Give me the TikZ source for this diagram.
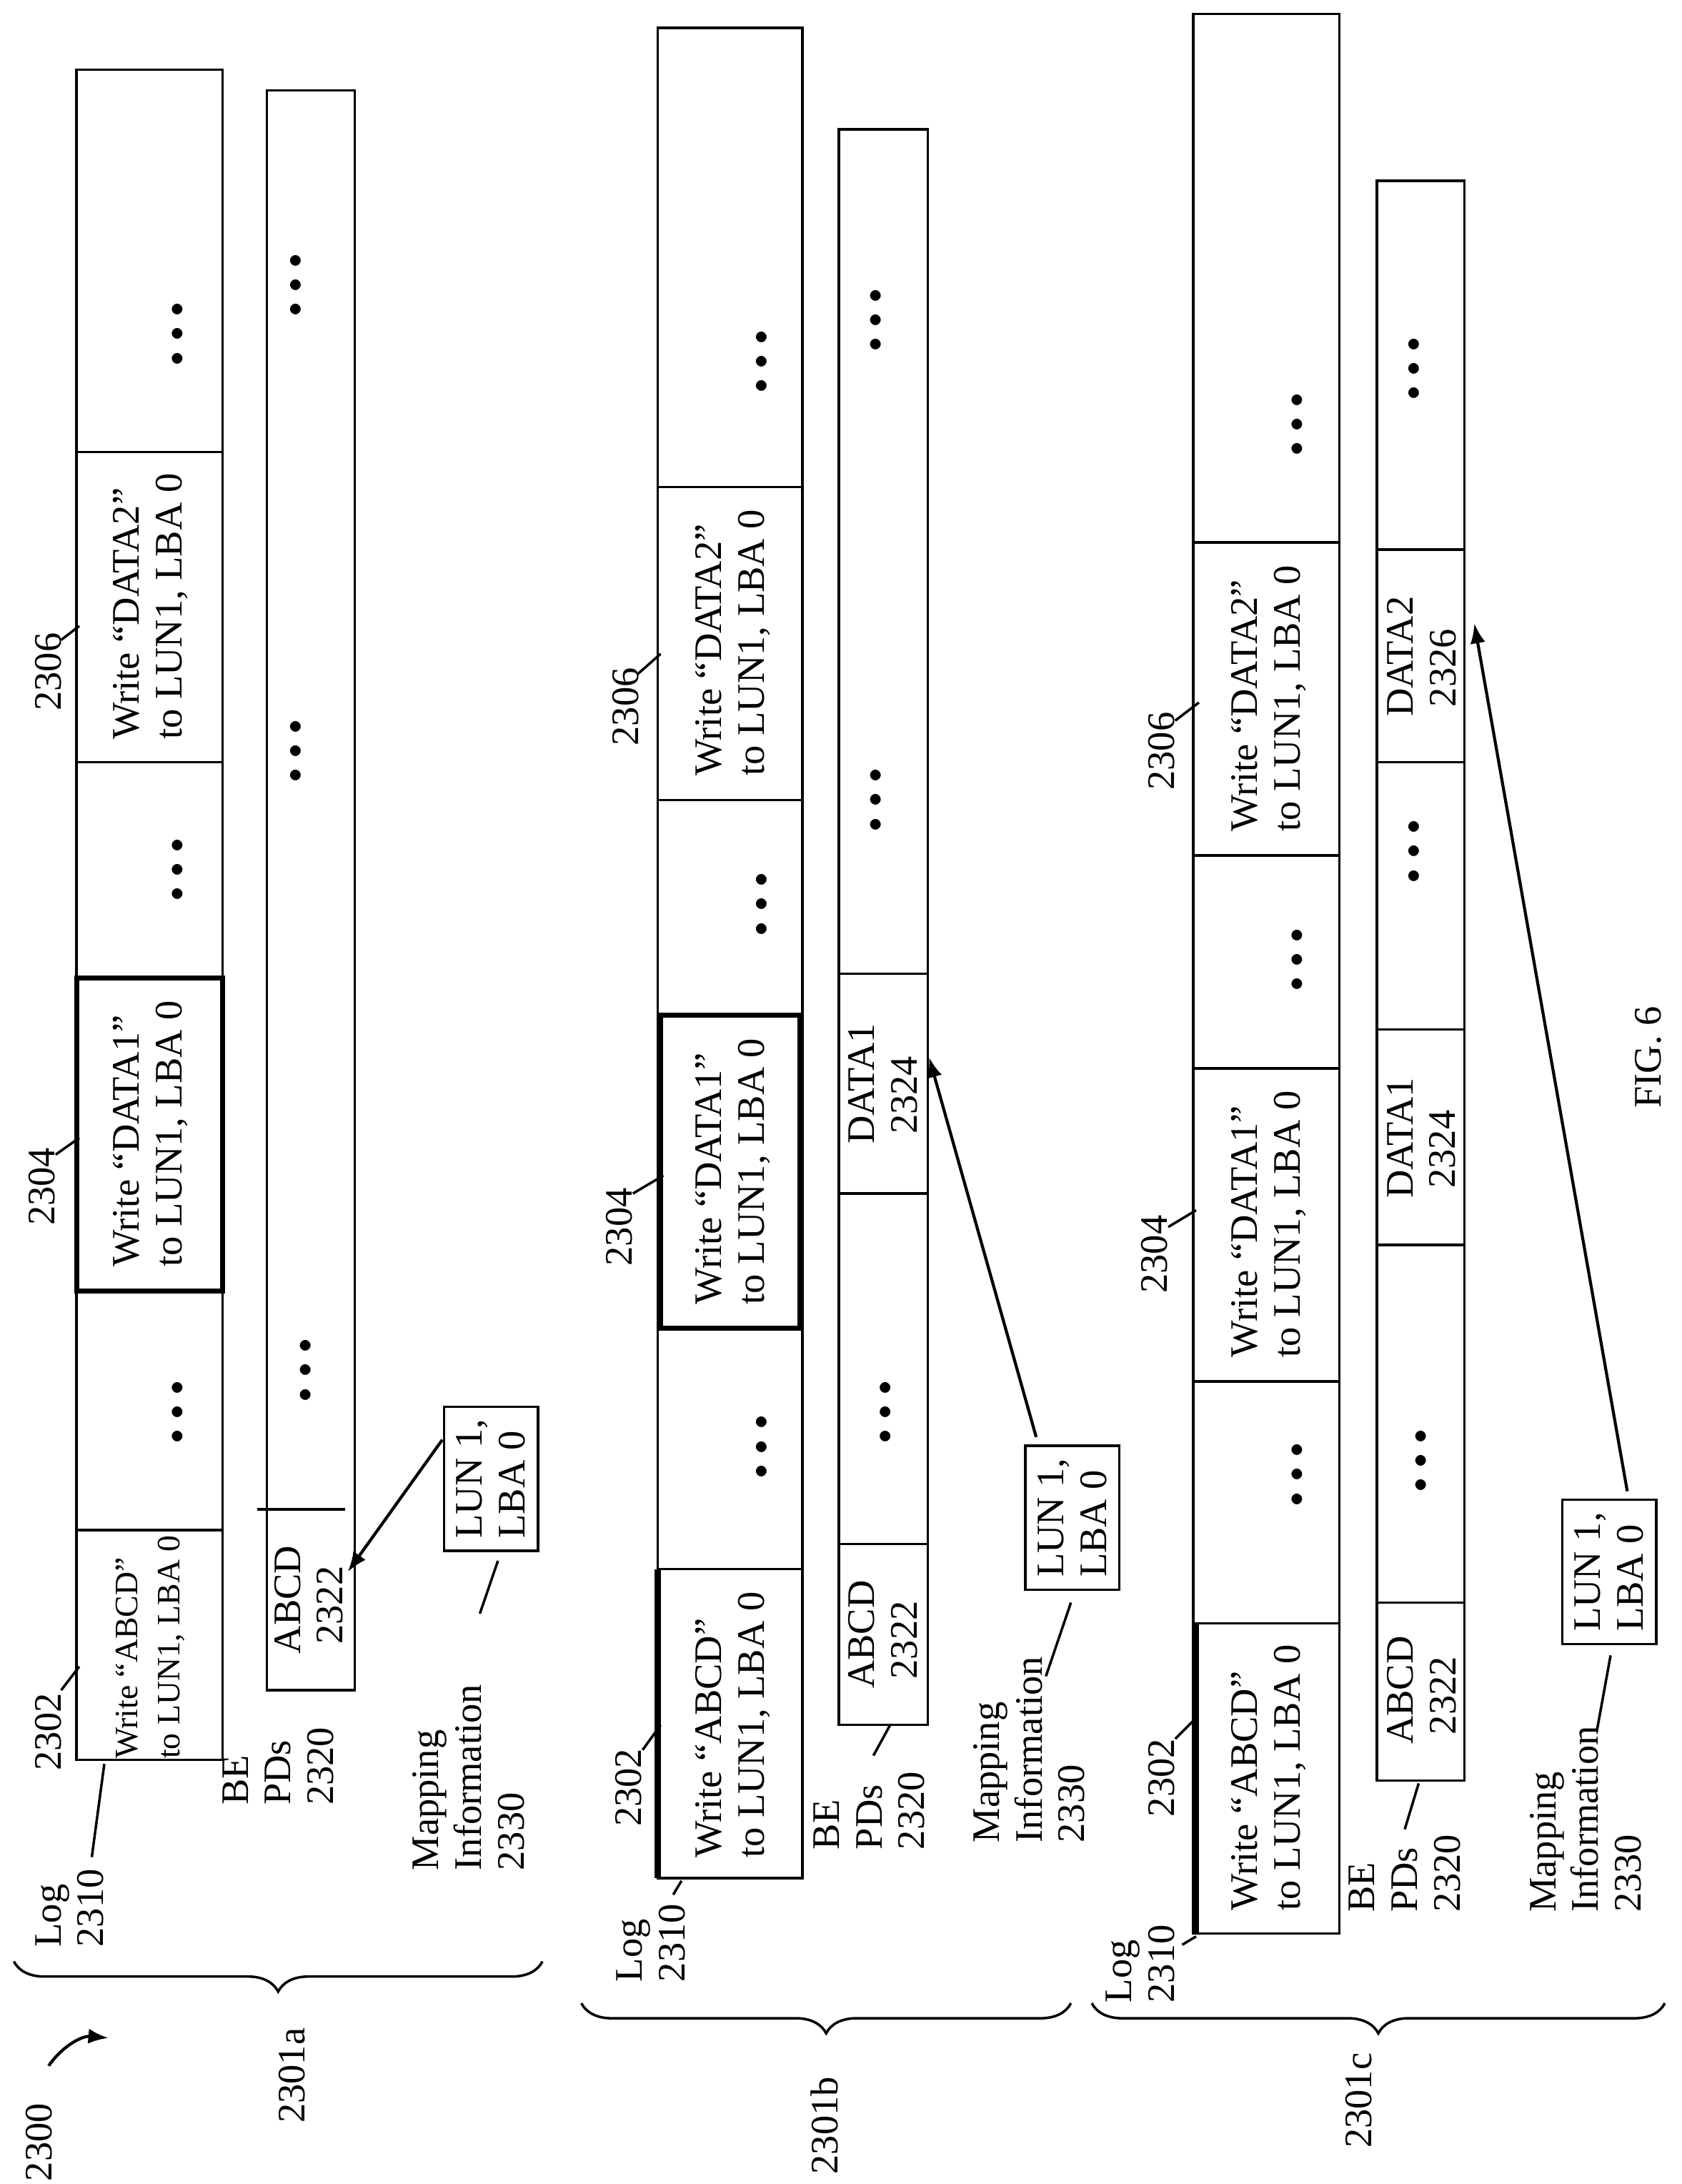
\documentclass[tikz,border=0pt]{standalone}
\usepackage{fontspec}
\setmainfont{Liberation Serif}
\usetikzlibrary{decorations.pathreplacing,arrows.meta}
\tikzset{
  txt/.style={rotate=90, font=\fontsize{15.5}{17}\selectfont, align=left, inner sep=0pt},
  dotsn/.style={rotate=90, font=\fontsize{11}{11}\selectfont\bfseries, inner sep=0pt},
  box/.style={draw, line width=1pt},
  lead/.style={line width=1pt},
  arr/.style={line width=1.2pt, -{Latex[length=8pt,width=6pt]}},
  br/.style={line width=1pt, decorate, decoration={brace, amplitude=12pt}}
}
\newcommand{\dts}{$\bullet\,\bullet\,\bullet$}
\begin{document}
\begin{tikzpicture}[x=0.01946cm, y=-0.01946cm]
\useasboundingbox (0,0) rectangle (1209,1570);

% ---------- panel a ----------
\draw[box] (55,50) rectangle (160,1265);
\foreach \y in {325,548,928,1100} \draw[box] (55,\y) -- (160,\y);
\draw[line width=2pt] (55,703) rectangle (160,928);
\node[dotsn] (aD1) at (128,240) {\dts};
\node[txt] (aW2) at (108,436) {Write ``DATA2''\\ to LUN1, LBA 0};
\node[dotsn] (aD2) at (128,625) {\dts};
\node[txt] (aW1) at (108,815) {Write ``DATA1''\\ to LUN1, LBA 0};
\node[dotsn] (aD3) at (128,1015) {\dts};
\node[txt, font=\fontsize{13}{17}\selectfont] (aW0) at (108,1184) {Write ``ABCD''\\ to LUN1, LBA 0};
% BE PDs
\draw[box] (192,65) rectangle (255,1215);
\draw[box] (185,1085) -- (248,1085);
\node[dotsn] (aP1) at (213,205) {\dts};
\node[dotsn] (aP2) at (213,540) {\dts};
\node[dotsn] (aP3) at (220,985) {\dts};
\node[txt] (aABCD) at (222,1150) {ABCD\\ \ 2322};
\coordinate (aT) at (250,1130);
% mapping
\node[box, txt, inner sep=5pt] (aM) at (353,1063) {LUN 1,\\ LBA 0};
\draw[arr] (318,1035) -- (aT);
% labels
\node[txt] (a2302) at (35,1245) {2302};
\draw[lead] (44,1215) -- (57,1198);
\node[txt] (a2304) at (30,853) {2304};
\draw[lead] (40,830) -- (57,818);
\node[txt] (a2306) at (35,483) {2306};
\draw[lead] (44,460) -- (57,450);
\node[txt, anchor=west] (aLog) at (50,1400) {Log\\ 2310};
\draw[lead] (66,1335) -- (75,1268);
\node[txt, anchor=west] (aBE) at (200,1298) {BE\\ PDs\\ 2320};
\node[txt, anchor=west] (aMI) at (337,1345) {Mapping\\ Information\\ 2330};
\draw[lead] (345,1160) -- (358,1122);
\draw[br] (390,1410) -- (10,1410);
\node[txt] (a2301) at (210,1492) {2301a};
\node[txt] (n2300) at (28,1540) {2300};
\draw[arr] (35,1485) to[bend left=30] (78,1465);

% ---------- panel b ----------
\draw[box] (473,20) rectangle (577,1350);
\foreach \y in {350,575,955,1128} \draw[box] (473,\y) -- (577,\y);
\draw[line width=2pt] (475,730) rectangle (575,955);
\node[dotsn] (bD1) at (548,260) {\dts};
\node[txt] (bW2) at (527,462) {Write ``DATA2''\\ to LUN1, LBA 0};
\node[dotsn] (bD2) at (548,650) {\dts};
\node[txt] (bW1) at (527,842) {Write ``DATA1''\\ to LUN1, LBA 0};
\node[dotsn] (bD3) at (548,1040) {\dts};
\node[txt] (bW0) at (527,1240) {Write ``ABCD''\\ to LUN1, LBA 0};
\draw[line width=2.5pt] (473,1128) -- (473,1350);
\draw[box] (603,93) rectangle (667,1240);
\foreach \y in {700,858,1110} \draw[box] (603,\y) -- (667,\y);
\node[dotsn] (bP1) at (630,230) {\dts};
\node[dotsn] (bP2) at (630,575) {\dts};
\node[dotsn] (bP3) at (637,1015) {\dts};
\node[txt] (bDATA1) at (635,779) {DATA1\\ \ 2324};
\node[txt] (bABCD) at (635,1175) {ABCD\\ \ 2322};
\coordinate (bT) at (668,760);
\node[box, txt, inner sep=5pt] (bM) at (771,1091) {LUN 1,\\ LBA 0};
\draw[arr] (745,1033) -- (bT);
\node[txt] (b2302) at (452,1285) {2302};
\draw[lead] (462,1258) -- (475,1240);
\node[txt] (b2304) at (445,882) {2304};
\draw[lead] (455,858) -- (477,845);
\node[txt] (b2306) at (450,508) {2306};
\draw[lead] (458,485) -- (475,470);
\node[txt, anchor=west] (bLog) at (468,1425) {Log\\ 2310};
\draw[lead] (484,1362) -- (490,1352);
\node[txt, anchor=west] (bBE) at (625,1330) {BE\\ PDs\\ 2320};
\draw[lead] (628,1262) -- (640,1240);
\node[txt, anchor=west] (bMI) at (740,1325) {Mapping\\ Information\\ 2330};
\draw[lead] (752,1205) -- (770,1152);
\draw[br] (770,1440) -- (418,1440);
\node[txt] (b2301) at (593,1528) {2301b};

% ---------- panel c ----------
\draw[box] (858,10) rectangle (963,1390);
\foreach \y in {390,615,768,993,1167} \draw[box] (858,\y) -- (963,\y);
\node[dotsn] (cD1) at (933,305) {\dts};
\node[txt] (cW2) at (912,502) {Write ``DATA2''\\ to LUN1, LBA 0};
\node[dotsn] (cD2) at (933,690) {\dts};
\node[txt] (cW1) at (912,880) {Write ``DATA1''\\ to LUN1, LBA 0};
\node[dotsn] (cD3) at (933,1060) {\dts};
\node[txt] (cW0) at (912,1278) {Write ``ABCD''\\ to LUN1, LBA 0};
\draw[line width=2.5pt] (860,1167) -- (860,1390);
\draw[box] (990,130) rectangle (1053,1280);
\foreach \y in {395,548,740,895,1152} \draw[box] (990,\y) -- (1053,\y);
\node[dotsn] (cP1) at (1017,265) {\dts};
\node[dotsn] (cP2) at (1017,612) {\dts};
\node[dotsn] (cP3) at (1022,1050) {\dts};
\node[txt] (cDATA2) at (1022,472) {DATA2\\ \ 2326};
\node[txt] (cDATA1) at (1022,818) {DATA1\\ \ 2324};
\node[txt] (cABCD) at (1022,1215) {ABCD\\ \ 2322};
\coordinate (cT) at (1060,448);
\node[box, txt, inner sep=5pt] (cM) at (1157,1130) {LUN 1,\\ LBA 0};
\draw[arr] (1170,1072) -- (cT);
\node[txt] (c2302) at (835,1278) {2302};
\draw[lead] (845,1250) -- (860,1235);
\node[txt, anchor=west] (c2304) at (830,930) {2304};
\draw[lead] (840,882) -- (860,870);
\node[txt] (c2306) at (835,540) {2306};
\draw[lead] (845,518) -- (862,505);
\node[txt, anchor=west] (cLog) at (820,1440) {Log\\ 2310};
\draw[lead] (850,1398) -- (860,1392);
\node[txt, anchor=west] (cBE) at (1010,1375) {BE\\ PDs\\ 2320};
\draw[lead] (1010,1315) -- (1020,1282);
\node[txt, anchor=west] (cMI) at (1140,1375) {Mapping\\ Information\\ 2330};
\draw[lead] (1148,1245) -- (1158,1190);
\draw[br] (1197,1440) -- (785,1440);
\node[txt] (c2301) at (977,1510) {2301c};

\node[txt] (fig) at (1185,760) {FIG. 6};
\end{tikzpicture}
\end{document}
